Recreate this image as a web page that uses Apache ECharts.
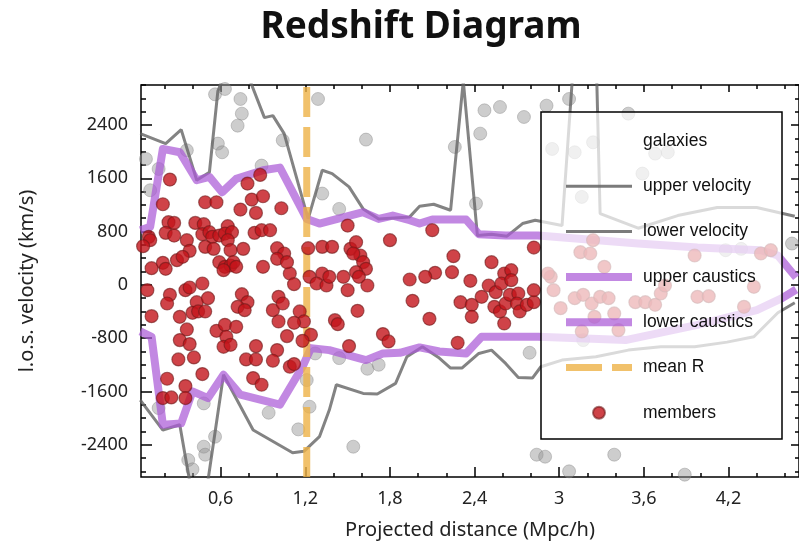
<!DOCTYPE html>
<html>
<head>
<meta charset="utf-8">
<script src="https://cdn.jsdelivr.net/npm/echarts@6/dist/echarts.min.js"></script>
<style>
  html, body { margin: 0; padding: 0; background: #fff; }
  #chart { width: 799px; height: 552px; }
</style>
</head>
<body>
<div id="chart"></div>
<script>
// ---- data -------------------------------------------------------------
const xTickValues = [0.6, 1.2, 1.8, 2.4, 3, 3.6, 4.2];
const yTickValues = [-2400, -1600, -800, 0, 800, 1600, 2400];

// cluster members: [projected distance (Mpc/h), l.o.s. velocity (km/s)]
const memberPoints = [
  [0.24,1580],[0.79,1520],[0.88,1650],[0.19,1210],[0.49,1240],[0.57,1240],[0.82,1280],[0.90,1330],
  [0.74,1130],[0.85,1080],[1.03,1150],[0.23,940],[0.27,930],[0.42,930],[0.48,910],[0.65,880],
  [0.09,720],[0.10,670],[0.21,780],[0.27,740],[0.36,670],[0.47,760],[0.52,790],[0.54,720],
  [0.59,740],[0.63,770],[0.68,790],[0.84,780],[0.89,820],[0.95,820],[0.49,570],[0.55,540],
  [0.65,670],[0.67,520],[0.76,540],[0.05,580],[1.00,550],[1.05,470],[1.22,550],[1.32,570],
  [0.38,510],[0.29,370],[0.33,420],[0.11,250],[0.19,330],[0.21,240],[0.59,340],[0.63,270],
  [0.67,290],[0.69,340],[0.62,220],[0.71,270],[0.90,270],[1.09,170],[1.00,390],[1.07,340],
  [1.23,120],[1.32,170],
  [0.08,-80],[0.24,-150],[0.22,-280],[0.35,-80],[0.38,-40],[0.47,20],[0.43,-260],[0.51,-200],
  [0.11,-470],[0.31,-480],[0.40,-420],[0.44,-400],[0.49,-400],[0.36,-670],[0.31,-830],[0.38,-890],
  [0.30,-1120],[0.41,-1090],[0.47,-1340],[0.22,-1410],[0.35,-1520],[0.19,-1700],[0.25,-1690],[0.35,-1700],
  [0.57,-690],[0.63,-600],[0.71,-630],[0.64,-780],[0.62,-930],[0.67,-900],[0.75,-140],[0.79,-260],
  [0.72,-330],[0.77,-380],[0.85,-920],[0.78,-1120],[0.85,-1120],[0.83,-1400],[0.89,-1500],[0.97,-380],
  [1.01,-180],[1.04,-280],[1.01,-550],[1.07,-770],[1.00,-980],[0.97,-1140],[1.09,-1230],[1.12,-1190],
  [1.12,10],[1.16,-400],[1.19,-550],[1.12,-570],[1.24,-750],[1.18,-840],[1.28,20],[1.35,-10],[1.37,120],
  [1.50,890],[2.10,820],[1.80,670],[1.39,570],[1.52,540],[1.56,640],[1.59,440],[1.54,470],
  [1.61,340],[1.63,240],[1.56,190],[1.58,120],[1.47,120],[2.25,430],[2.52,340],[2.82,560],
  [2.61,170],[2.66,220],[2.24,190],[2.12,180],[2.05,120],[1.94,80],[2.37,60],
  [1.50,-80],[1.64,-10],[1.96,-240],[1.57,-390],[1.41,-530],[1.43,-590],[2.08,-510],[1.51,-920],
  [1.75,-740],[1.79,-850],[2.28,-870],[2.30,-260],[2.38,-300],[2.38,-480],[2.45,-180],[2.50,-10],
  [2.55,-110],[2.59,20],[2.66,70],[2.54,-330],[2.58,-400],[2.62,-280],[2.65,-150],[2.71,-130],
  [2.70,-280],[2.72,-400],[2.77,-300],[2.82,-260],[2.82,-80],[2.61,-580],
  [2.94,120],[2.96,-80],[3.01,-350],[3.11,-200],[3.17,-150],[3.23,-280],[3.29,-180],[3.35,-200],
  [3.39,-430],[3.25,-480],[3.16,-700],[3.42,-680],[3.54,-260],[3.61,-260],[3.68,-300],[3.72,-130],
  [3.75,-10],[3.98,-180],[4.06,-170],[4.31,-330],[4.38,-30],[3.15,490],[3.22,470],[3.24,670],
  [3.32,270],[3.96,440],[4.43,470],[4.50,520],[2.92,170]
];

// all galaxies in the field that are not members
const galaxyPoints = [
  [0.56,2860],[0.63,2940],[0.74,2790],[0.75,2570],[0.72,2390],[0.58,2120],[0.61,1990],[0.36,2020],
  [0.07,1890],[0.16,1740],[0.10,1420],[1.04,2170],[0.89,1790],[1.29,2790],[0.16,-1850],[0.48,-1780],
  [0.94,-1920],[1.23,-1830],[1.21,-1430],[1.15,-2170],[0.56,-2280],[0.48,-2430],[0.49,-2550],[0.37,-2630],
  [0.40,-2770],[1.27,-1030],[1.63,2180],[2.26,2070],[2.44,2270],[2.47,2620],[2.58,2670],[2.75,2520],
  [2.91,2690],[1.32,1370],[1.44,1140],[2.41,1220],[1.44,-1100],[1.64,-1260],[1.72,-1200],[1.54,-2430],
  [2.79,-1020],[2.84,-2550],[2.90,-2580],[3.07,2790],[3.49,2570],[3.24,2140],[2.95,2040],[3.11,1990],
  [3.68,1970],[3.77,1990],[3.16,1320],[3.59,1670],[4.18,520],[4.29,540],[4.65,620],[3.39,-2550],
  [3.07,-2800],[3.89,-2850],[3.17,-830]
];

const upperVelocity = [
  [0.03,2270],[0.21,2120],[0.32,2330],[0.43,1570],[0.52,1690],[0.58,2910],[0.71,3600],[0.91,2510],
  [0.97,2540],[1.05,2270],[1.22,990],[1.32,1720],[1.39,1670],[1.51,1470],[1.61,1140],[1.72,990],
  [1.94,1020],[2.01,1180],[2.11,1210],[2.23,1120],[2.32,3060],[2.42,740],[2.52,760],[2.63,730],
  [2.74,920],[2.83,970],[3.02,890],[3.11,3600],[3.26,3600],[3.29,1070],[3.56,850],[3.84,1040],
  [4.12,1160],[4.40,1160],[4.67,1030]
];

const lowerVelocity = [
  [0.03,-1730],[0.19,-2180],[0.31,-2100],[0.45,-3800],[0.62,-1350],[0.83,-2180],[1.11,-2520],[1.19,-2500],
  [1.30,-2280],[1.37,-1880],[1.42,-1500],[1.61,-1630],[1.71,-1640],[1.84,-1480],[1.92,-1080],[2.03,-930],
  [2.15,-1100],[2.23,-1250],[2.31,-1250],[2.43,-1030],[2.52,-980],[2.62,-1180],[2.71,-1390],[2.81,-1400],
  [2.87,-1230],[3.02,-1130],[3.26,-1080],[3.49,-980],[3.72,-930],[3.96,-930],[4.19,-860],[4.38,-780],
  [4.55,-420],[4.67,-270]
];

const upperCaustic = [
  [0.03,820],[0.10,870],[0.19,2040],[0.31,1990],[0.43,1570],[0.52,1620],[0.61,1390],[0.71,1590],
  [0.90,1720],[1.02,1760],[1.21,990],[1.30,920],[1.61,1090],[1.72,990],[1.82,1040],[1.94,970],
  [2.01,920],[2.10,980],[2.34,980],[2.43,760],[2.62,740],[2.85,740],[3.56,620],[3.98,560],
  [4.43,520],[4.55,440],[4.68,110]
];

const lowerCaustic = [
  [0.03,-700],[0.11,-780],[0.19,-2100],[0.32,-2080],[0.40,-1600],[0.51,-1700],[0.62,-1350],[0.74,-1650],
  [1.02,-1800],[1.18,-1230],[1.24,-950],[1.37,-980],[1.63,-1130],[1.75,-1030],[1.87,-1020],[2.01,-940],
  [2.15,-1000],[2.34,-1030],[2.45,-780],[2.85,-780],[3.47,-830],[3.98,-600],[4.40,-380],[4.58,-200],
  [4.68,-70]
];

const meanR = 1.21;

// ---- axes ranges ------------------------------------------------------
const X_MIN = 0.035, X_MAX = 4.70;
const Y_MIN = -2885, Y_MAX = 3000;

function steps(from, to, step) {
  const out = [];
  for (let v = from; v <= to + 1e-9; v += step) out.push(Math.round(v * 1000) / 1000);
  return out;
}
const xMinorTicks = steps(0.2, 4.6, 0.2);
const yMinorTicks = steps(-2800, 3000, 200);

const FONT = "'Noto Sans', 'DejaVu Sans', sans-serif";
const tickLine = { color: '#000', width: 1.5 };

function xAxisDef(position, ticks, len, extra) {
  return Object.assign({
    type: 'value', position: position, min: X_MIN, max: X_MAX,
    splitLine: { show: false }, axisLine: { show: false, onZero: false },
    axisLabel: { show: false },
    axisTick: { show: true, inside: true, length: len, customValues: ticks, lineStyle: tickLine }
  }, extra || {});
}
function yAxisDef(position, ticks, len, extra) {
  return Object.assign({
    type: 'value', position: position, min: Y_MIN, max: Y_MAX,
    splitLine: { show: false }, axisLine: { show: false, onZero: false },
    axisLabel: { show: false },
    axisTick: { show: true, inside: true, length: len, customValues: ticks, lineStyle: tickLine }
  }, extra || {});
}

const chart = echarts.init(document.getElementById('chart'), null, { renderer: 'canvas' });

const hiddenMarker = { opacity: 0 };
const velocityLegendLine = { color: 'rgba(100,100,100,0.85)', width: 3 };
const causticLegendLine = { color: 'rgba(170,90,215,0.72)', width: 8 };

const option = {
  animation: false,
  backgroundColor: '#fff',
  title: {
    text: 'Redshift Diagram',
    left: 416, top: 4, textAlign: 'center',
    textStyle: { fontFamily: FONT, fontSize: 37, fontWeight: 'bold', color: '#111' }
  },
  grid: {
    left: 141, top: 85, width: 661, height: 392,
    show: true, borderColor: '#000', borderWidth: 1.5, backgroundColor: 'transparent'
  },
  xAxis: [
    xAxisDef('bottom', xTickValues, 10, {
      name: 'Projected distance (Mpc/h)', nameLocation: 'middle', nameGap: 43,
      nameTextStyle: { fontFamily: FONT, fontSize: 20, color: '#222' },
      axisLabel: {
        show: true, customValues: xTickValues, margin: 13,
        fontFamily: FONT, fontSize: 18, color: '#222',
        formatter: v => String(v).replace('.', ',')
      }
    }),
    xAxisDef('bottom', xMinorTicks, 4),
    xAxisDef('top', xTickValues, 7),
    xAxisDef('top', xMinorTicks, 4)
  ],
  yAxis: [
    yAxisDef('left', yTickValues, 11, {
      name: 'l.o.s. velocity (km/s)', nameLocation: 'middle', nameGap: 104,
      nameTextStyle: { fontFamily: FONT, fontSize: 20, color: '#222' },
      axisLabel: {
        show: true, customValues: yTickValues, margin: 13,
        fontFamily: FONT, fontSize: 18, color: '#222',
        formatter: v => String(v)
      }
    }),
    yAxisDef('left', yMinorTicks, 5),
    yAxisDef('right', yTickValues, 8),
    yAxisDef('right', yMinorTicks, 4)
  ],
  legend: {
    orient: 'vertical', left: 562, top: 131, padding: 0,
    itemWidth: 66, itemHeight: 12, itemGap: 25.3,
    selectedMode: false, z: 120,
    textStyle: { fontFamily: "'Liberation Sans', Arial, sans-serif", fontSize: 17.5, color: '#111',
                 lineHeight: 20, padding: [0, 0, 0, 6] },
    data: [
      { name: 'galaxies', itemStyle: hiddenMarker },
      { name: 'upper velocity', itemStyle: hiddenMarker, lineStyle: velocityLegendLine },
      { name: 'lower velocity', itemStyle: hiddenMarker, lineStyle: velocityLegendLine },
      { name: 'upper caustics', itemStyle: hiddenMarker, lineStyle: causticLegendLine },
      { name: 'lower caustics', itemStyle: hiddenMarker, lineStyle: causticLegendLine },
      { name: 'mean R', itemStyle: hiddenMarker,
        lineStyle: { color: 'rgba(238,178,70,0.8)', width: 7, type: [36, 10] } },
      'members'
    ]
  },
  graphic: [{
    type: 'rect', z: 100,
    shape: { x: 541, y: 112, width: 241, height: 327 },
    style: { fill: 'rgba(255,255,255,0.7)', stroke: '#000', lineWidth: 1.5 }
  }],
  series: [
    {
      name: 'galaxies', type: 'scatter', data: galaxyPoints, symbolSize: 13, z: 1,
      itemStyle: { color: 'rgba(150,150,150,0.6)', borderColor: 'rgba(120,120,120,0.45)', borderWidth: 1 }
    },
    {
      name: 'upper velocity', type: 'line', data: upperVelocity, symbol: 'none', z: 2,
      lineStyle: { color: 'rgba(100,100,100,0.8)', width: 3 }
    },
    {
      name: 'lower velocity', type: 'line', data: lowerVelocity, symbol: 'none', z: 2,
      lineStyle: { color: 'rgba(100,100,100,0.8)', width: 3 }
    },
    {
      name: 'upper caustics', type: 'line', data: upperCaustic, symbol: 'none', z: 3,
      lineStyle: { color: 'rgba(170,90,215,0.72)', width: 8, join: 'round' }
    },
    {
      name: 'lower caustics', type: 'line', data: lowerCaustic, symbol: 'none', z: 3,
      lineStyle: { color: 'rgba(170,90,215,0.72)', width: 8, join: 'round' }
    },
    {
      name: 'mean R', type: 'line', data: [[meanR, Y_MIN], [meanR, Y_MAX]], symbol: 'none', z: 4,
      lineStyle: { color: 'rgba(238,178,70,0.8)', width: 7, type: [30, 10], cap: 'butt' }
    },
    {
      name: 'members', type: 'scatter', data: memberPoints, symbolSize: 13, z: 5,
      itemStyle: { color: '#c3141a', borderColor: 'rgba(110,25,25,0.75)', borderWidth: 1.2 }
    }
  ]
};

chart.setOption(option);
</script>
</body>
</html>
